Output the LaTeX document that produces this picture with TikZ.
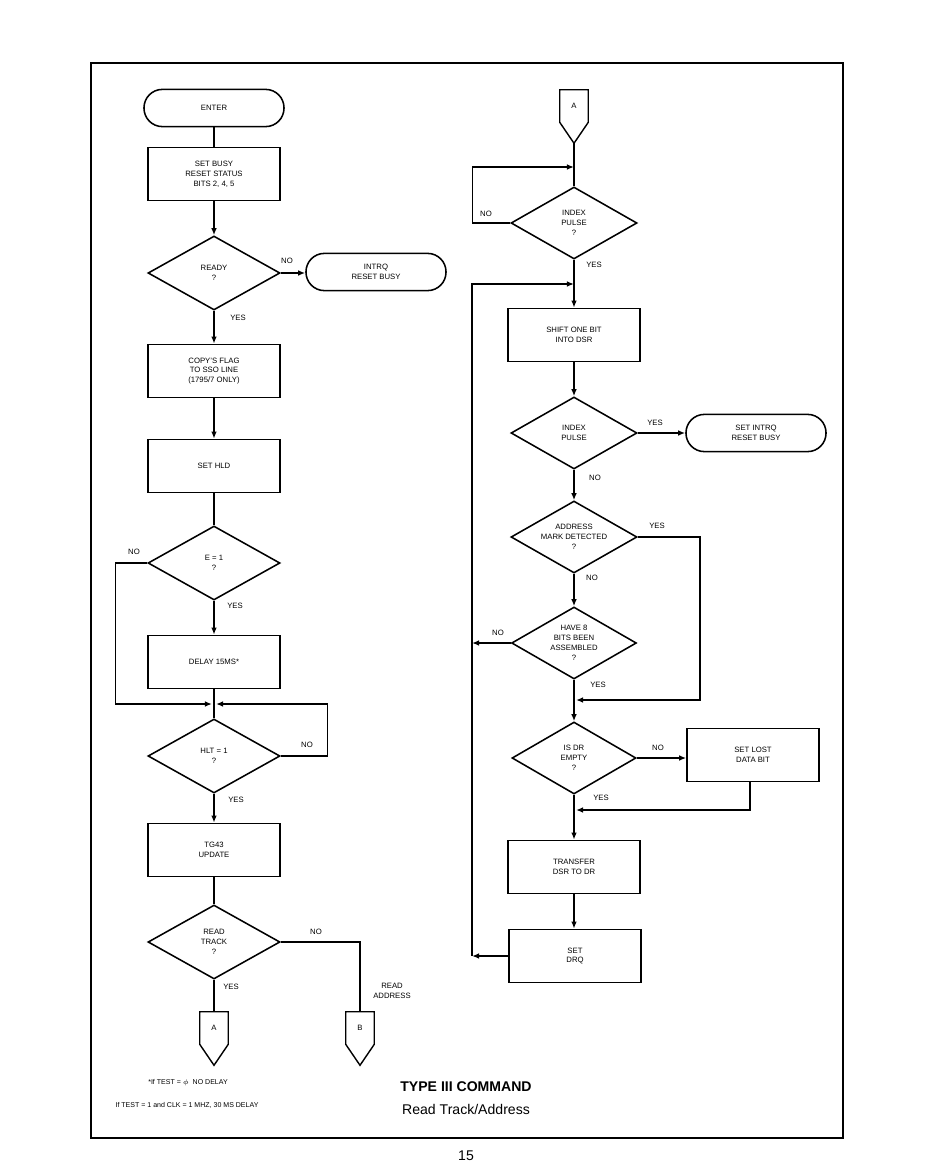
\documentclass[tikz,border=0pt]{standalone}
\usepackage{fontspec}
\setmainfont{Liberation Sans}
\usetikzlibrary{shapes.geometric,arrows.meta}

\newcommand{\flowfont}{\fontsize{5.5}{7}\selectfont}
\newcommand{\notefont}{\fontsize{5}{6}\selectfont}
% off-page connector drawn round a named node, tip kept as <name>-tip
\newcommand{\offpage}[1]{%
  \coordinate (#1-tip) at ([yshift=-0.525cm]#1.south);
  \draw[line width=1pt] (#1.north west) -- (#1.south west) -- (#1-tip)
    -- (#1.south east) -- (#1.north east) -- cycle;}

\begin{document}
\begin{tikzpicture}[x=0.025cm, y=-0.025cm,
  every node/.style={font=\flowfont, align=center},
  procbox/.style={draw, line width=1.1pt, minimum width=3.3cm, minimum height=1.33cm, inner sep=0pt},
  decide/.style={draw, diamond, line width=1.1pt, shape aspect=1.75, inner sep=0pt,
    minimum width=3.3cm, minimum height=1.85cm},
  rdecide/.style={decide, minimum width=3.15cm, minimum height=1.8cm},
  termnl/.style={draw, rectangle, rounded corners=0.46cm, line width=1.1pt,
    minimum width=3.5cm, minimum height=0.93cm},
  conn/.style={inner sep=0pt, minimum width=0.7cm, minimum height=0.8cm},
  lbl/.style={inner sep=1pt},
  line/.style={line width=1pt},
  arr/.style={line width=1pt, -{Latex[length=5pt,width=4pt]}}]

  \useasboundingbox (0,0) rectangle (932,1175);

  % Page frame
  \draw[line width=1.2pt] (91,63) rectangle (843,1138);

  % ---------- left column ----------
  \node[termnl] (enter) at (214,108) {ENTER};
  \node[procbox] (setbusy) at (214,174) {SET BUSY\\RESET STATUS\\BITS 2, 4, 5};
  \node[decide] (ready) at (214,273) {READY\\?};
  \node[termnl] (intrq) at (376,272) {INTRQ\\RESET BUSY};
  \node[procbox] (copyflag) at (214,371) {COPY'S FLAG\\TO SSO LINE\\(1795/7 ONLY)};
  \node[procbox] (sethld) at (214,466) {SET HLD};
  \node[decide] (eone) at (214,563) {E = 1\\?};
  \node[procbox] (delay) at (214,662) {DELAY 15MS*};
  \coordinate (jdelay) at (214,704);
  \node[decide] (hlt) at (214,756) {HLT = 1\\?};
  \node[procbox] (tgupd) at (214,850) {TG43\\UPDATE};
  \node[decide] (rdtrk) at (214,942) {READ\\TRACK\\?};
  \node[conn] (conA) at (214,1028) {A};
  \node[conn] (conB) at (360,1028) {B};
  \offpage{conA}
  \offpage{conB}
  \node (rdaddr) at (392,991) {READ\\ADDRESS};

  \draw[line] (enter) -- (setbusy);
  \draw[arr] (setbusy) -- (ready);
  \draw[arr] (ready.east) -- (ready.east -| intrq.west);
  \node[lbl] (nordy) at (287,261) {NO};
  \draw[arr] (ready) -- (copyflag);
  \node[lbl] (yesrdy) at (238,318) {YES};
  \draw[arr] (copyflag) -- (sethld);
  \draw[line] (sethld) -- (eone);
  \draw[arr] (eone) -- (delay);
  \node[lbl] (yese) at (235,606) {YES};
  \draw[arr] (eone.west) -- ++(-32,0) |- ([xshift=-0.05cm]jdelay);
  \node[lbl] (noe) at (134,552) {NO};
  \draw[line] (delay) -- (hlt);
  \draw[arr] (hlt.east) -- ++(47,0) |- ([xshift=0.05cm]jdelay);
  \node[lbl] (nohlt) at (307,745) {NO};
  \draw[arr] (hlt) -- (tgupd);
  \node[lbl] (yeshlt) at (236,800) {YES};
  \draw[line] (tgupd) -- (rdtrk);
  \draw[line] (rdtrk) -- (conA);
  \node[lbl] (yestrk) at (231,987) {YES};
  \draw[line] (rdtrk.east) -| (conB);
  \node[lbl] (notrk) at (316,932) {NO};

  % Footnotes
  \node[font=\notefont] (note1) at (188,1083) {*If TEST = $\phi$ \ NO DELAY};
  \node[font=\notefont] (note2) at (187,1105) {If TEST = 1 and CLK = 1 MHZ, 30 MS DELAY};

  % ---------- right column ----------
  \node[conn] (conAr) at (574,106) {A};
  \offpage{conAr}
  \coordinate (jidx) at (574,167);
  \node[rdecide] (idxone) at (574,223) {INDEX\\PULSE\\?};
  \coordinate (jshift) at (574,284);
  \node[procbox] (shift) at (574,335) {SHIFT ONE BIT\\INTO DSR};
  \node[rdecide] (idxtwo) at (574,433) {INDEX\\PULSE};
  \node[termnl] (setintrq) at (756,433) {SET INTRQ\\RESET BUSY};
  \node[rdecide] (addrmk) at (574,537) {ADDRESS\\MARK DETECTED\\?};
  \node[rdecide, minimum width=3.12cm] (haveeight) at (574,643) {HAVE 8\\BITS BEEN\\ASSEMBLED\\?};
  \coordinate (jbits) at (574,700);
  \node[rdecide, minimum width=3.1cm] (isdr) at (574,758) {IS DR\\EMPTY\\?};
  \node[procbox] (setlost) at (753,755) {SET LOST\\DATA BIT};
  \coordinate (jlost) at (574,810);
  \node[procbox] (transfer) at (574,867) {TRANSFER\\DSR TO DR};
  \node[procbox] (setdrq) at (575,956) {SET\\DRQ};
  \coordinate (xloop) at (472,956);

  \draw[line] (conAr-tip) -- (idxone);
  \draw[arr] (idxone.west) -- ++(-38,0) |- (jidx);
  \node[lbl] (noidx) at (486,214) {NO};
  \draw[arr] (idxone) -- (shift);
  \node[lbl] (yesidx) at (594,265) {YES};
  \draw[arr] (setdrq.west) -- (xloop);
  \draw[arr] (xloop) |- (jshift);
  \draw[arr] (shift) -- (idxtwo);
  \draw[arr] (idxtwo.east) -- (setintrq.west);
  \node[lbl] (yesidxb) at (655,423) {YES};
  \draw[arr] (idxtwo) -- (addrmk);
  \node[lbl] (noidxb) at (595,478) {NO};
  \draw[arr] (addrmk.east) -- ++(62,0) |- ([xshift=0.05cm]jbits);
  \node[lbl] (yesaddr) at (657,526) {YES};
  \draw[arr] (addrmk) -- (haveeight);
  \node[lbl] (noaddr) at (592,578) {NO};
  \draw[arr] (haveeight.west) -- (haveeight.west -| xloop);
  \node[lbl] (nobits) at (498,633) {NO};
  \draw[arr] (haveeight) -- (isdr);
  \node[lbl] (yesbits) at (598,685) {YES};
  \draw[arr] (isdr.east) -- (isdr.east -| setlost.west);
  \node[lbl] (nodr) at (658,748) {NO};
  \draw[arr] ([xshift=-0.075cm]setlost.south) |- ([xshift=0.05cm]jlost);
  \draw[arr] (isdr) -- (transfer);
  \node[lbl] (yesdr) at (601,798) {YES};
  \draw[arr] (transfer.south) -- (transfer.south |- setdrq.north);

  % Caption
  \node[font=\fontsize{10}{12}\selectfont\bfseries] (title) at (466,1087) {TYPE III COMMAND};
  \node[font=\fontsize{10}{12}\selectfont] (subtitle) at (466,1109) {Read Track/Address};
  \node[font=\fontsize{10}{12}\selectfont] (pagenum) at (466,1156) {15};
\end{tikzpicture}
\end{document}
